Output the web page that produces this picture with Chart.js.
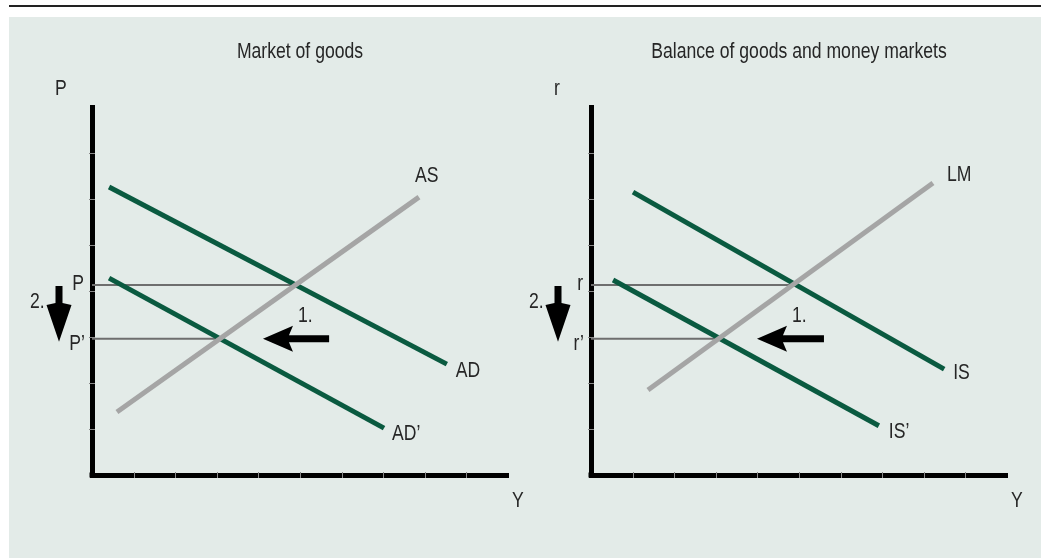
<!DOCTYPE html>
<html>
<head>
<meta charset="utf-8">
<script src="https://cdn.jsdelivr.net/npm/chart.js@4.4.1/dist/chart.umd.min.js"></script>
<style>
  html, body { margin: 0; padding: 0; background: #fff; }
  #wrap { position: relative; width: 1041px; height: 558px; overflow: hidden; }
  #rule { position: absolute; left: 9px; top: 5px; width: 1032px; height: 2px; background: #222; }
  #panel { position: absolute; left: 9px; top: 17px; width: 1032px; height: 541px; background: #e3ebe8; }
  canvas { position: absolute; top: 0; left: 0; }
  #leftBox { position: absolute; left: 0; top: 0; width: 540px; height: 558px; }
  #rightBox { position: absolute; left: 499px; top: 0; width: 542px; height: 558px; }
</style>
</head>
<body>
<div id="wrap">
  <div id="rule"></div>
  <div id="panel"></div>
  <div id="leftBox"><canvas id="goodsChart"></canvas></div>
  <div id="rightBox"><canvas id="islmChart"></canvas></div>
</div>
<script>
// Axis ranges (ticks every 1 unit)
const xMax = 10;
const yMax = 8;

// Left panel: market of goods
const goodsTitle = 'Market of goods';
const goodsAxisNames = ['P', 'Y'];
const goodsCurveNames = ['AD', 'AD\u2019', 'AS'];
const adX = [0.41, 8.53];
const adY = [6.26, 2.41];
const ad2X = [0.41, 7.02];
const ad2Y = [4.28, 1.02];
const asX = [0.60, 7.86];
const asY = [1.37, 6.04];
const priceNames = ['P', 'P\u2019'];
const priceLevels = [4.13, 2.96];
const priceLineEnds = [4.90, 3.08];
const goodsShiftX = [5.70, 4.11];

// Right panel: IS-LM
const islmTitle = 'Balance of goods and money markets';
const islmAxisNames = ['r', 'Y'];
const islmCurveNames = ['IS', 'IS\u2019', 'LM'];
const isX = [1.01, 8.49];
const isY = [6.15, 2.30];
const is2X = [0.53, 6.92];
const is2Y = [4.24, 1.07];
const lmX = [1.37, 8.22];
const lmY = [1.85, 6.35];
const rateNames = ['r', 'r\u2019'];
const rateLevels = [4.13, 2.96];
const rateLineEnds = [4.90, 3.10];
const islmShiftX = [5.60, 3.99];

const GREEN = '#0a5a40';
const GREY = '#a5a5a5';
const GUIDE = '#6e6e6e';
const TEXT = '#262626';
const FONT = '"Liberation Sans", Arial, sans-serif';
const NARROW = 0.8; // the original uses a condensed face

let charts = {};

function pts(xs, ys) {
    return xs.map((x, i) => ({ x: x, y: ys[i] }));
}

function lineSet(xs, ys, color, width, order) {
    return {
        data: pts(xs, ys),
        borderColor: color,
        borderWidth: width,
        borderCapStyle: 'butt',
        pointRadius: 0,
        fill: false,
        tension: 0,
        order: order
    };
}

// Helper: condensed text (align: left / center / right)
function narrowText(ctx, text, x, y, align) {
    const w = ctx.measureText(text).width * NARROW;
    let left = x;
    if (align === 'center') left = x - w / 2;
    if (align === 'right') left = x - w;
    ctx.save();
    ctx.textAlign = 'left';
    ctx.translate(left, y);
    ctx.scale(NARROW, 1);
    ctx.fillText(text, 0, 0);
    ctx.restore();
}

// Helper: axis ticks, labels and arrows drawn over the chart
const decorPlugin = {
    id: 'decor',
    afterDatasetsDraw(chart, args, opts) {
        const ctx = chart.ctx;
        const xs = chart.scales.x;
        const ys = chart.scales.y;
        const area = chart.chartArea;
        ctx.save();

        // small tick marks across the thick axes
        ctx.strokeStyle = '#8a8a8a';
        ctx.lineWidth = 1;
        for (let v = 1; v < yMax; v++) {
            const py = Math.round(ys.getPixelForValue(v)) + 0.5;
            ctx.beginPath();
            ctx.moveTo(area.left - 3, py);
            ctx.lineTo(area.left + 3, py);
            ctx.stroke();
        }
        for (let v = 1; v < xMax; v++) {
            const px = Math.round(xs.getPixelForValue(v)) + 0.5;
            ctx.beginPath();
            ctx.moveTo(px, area.bottom - 3);
            ctx.lineTo(px, area.bottom + 3);
            ctx.stroke();
        }
        // close the corner
        ctx.fillStyle = '#000';
        ctx.fillRect(area.left - 2.5, area.bottom - 2.5, 5, 5);

        ctx.fillStyle = TEXT;
        ctx.font = '22px ' + FONT;
        ctx.textBaseline = 'alphabetic';

        // title
        narrowText(ctx, opts.title, (area.left + area.right) / 2, 58, 'center');

        // axis names
        narrowText(ctx, opts.axisNames[0], area.left - 37, area.top - 12, 'left');
        narrowText(ctx, opts.axisNames[1], area.right + 4, area.bottom + 32, 'left');

        // curve names next to line ends
        const offs = opts.curveOffsets;
        opts.curveNames.forEach((name, i) => {
            const ds = chart.data.datasets[i].data;
            const end = ds[ds.length - 1];
            narrowText(ctx, name, xs.getPixelForValue(end.x) + offs[i][0], ys.getPixelForValue(end.y) + offs[i][1], 'left');
        });

        // level names
        const hi = ys.getPixelForValue(opts.levels[0]);
        const lo = ys.getPixelForValue(opts.levels[1]);
        narrowText(ctx, opts.levelNames[0], area.left - 8, hi + 5, 'right');
        narrowText(ctx, opts.levelNames[1], area.left - 7, lo + 11, 'right');

        // "2." and the downward arrow
        narrowText(ctx, '2.', area.left - 62, hi + 23, 'left');
        const cx = area.left - 33;
        ctx.beginPath();
        ctx.moveTo(cx - 3.5, hi + 1);
        ctx.lineTo(cx + 3.5, hi + 1);
        ctx.lineTo(cx + 3.5, hi + 18);
        ctx.lineTo(cx + 12.5, hi + 20);
        ctx.lineTo(cx, lo + 3);
        ctx.lineTo(cx - 12.5, hi + 20);
        ctx.lineTo(cx - 3.5, hi + 18);
        ctx.closePath();
        ctx.fillStyle = '#000';
        ctx.fill();

        // "1." and the leftward arrow
        const tail = xs.getPixelForValue(opts.shiftX[0]);
        const tip = xs.getPixelForValue(opts.shiftX[1]);
        ctx.beginPath();
        ctx.moveTo(tip, lo);
        ctx.lineTo(tip + 30, lo - 13);
        ctx.lineTo(tip + 26, lo - 3.5);
        ctx.lineTo(tail, lo - 3.5);
        ctx.lineTo(tail, lo + 3.5);
        ctx.lineTo(tip + 26, lo + 3.5);
        ctx.lineTo(tip + 30, lo + 13);
        ctx.closePath();
        ctx.fill();
        ctx.fillStyle = TEXT;
        narrowText(ctx, '1.', tip + 35, lo - 17, 'left');

        ctx.restore();
    }
};

function renderPanel(id, p) {
    const ctx = document.getElementById(id);
    const box = ctx.parentNode;
    const levelSets = p.levels.map((lv, i) => lineSet([0, p.levelEnds[i]], [lv, lv], GUIDE, 2, 3));

    charts[id] = new Chart(ctx, {
        type: 'line',
        data: {
            datasets: [
                lineSet(p.curves[0][0], p.curves[0][1], GREEN, 5, 1),
                lineSet(p.curves[1][0], p.curves[1][1], GREEN, 5, 1),
                lineSet(p.curves[2][0], p.curves[2][1], GREY, 5, 0),
                ...levelSets
            ]
        },
        options: {
            responsive: false,
            animation: false,
            events: [],
            layout: {
                padding: { left: 92, top: 107, right: box.clientWidth - 508, bottom: 558 - 475 }
            },
            plugins: {
                legend: { display: false },
                tooltip: { enabled: false },
                decor: p.decor
            },
            scales: {
                x: {
                    type: 'linear', min: 0, max: xMax,
                    ticks: { display: false, stepSize: 1 },
                    grid: { display: false },
                    border: { display: true, color: '#000', width: 5 },
                    afterFit: s => { s.height = 0; }
                },
                y: {
                    type: 'linear', min: 0, max: yMax,
                    ticks: { display: false, stepSize: 1 },
                    grid: { display: false },
                    border: { display: true, color: '#000', width: 5 },
                    afterFit: s => { s.width = 0; }
                }
            }
        },
        plugins: [decorPlugin]
    });
}

function setSize(id) {
    const c = document.getElementById(id);
    c.width = c.parentNode.clientWidth;
    c.height = c.parentNode.clientHeight;
    c.style.width = c.width + 'px';
    c.style.height = c.height + 'px';
}

setSize('goodsChart');
setSize('islmChart');

renderPanel('goodsChart', {
    curves: [[adX, adY], [ad2X, ad2Y], [asX, asY]],
    levels: priceLevels,
    levelEnds: priceLineEnds,
    decor: {
        title: goodsTitle,
        axisNames: goodsAxisNames,
        curveNames: goodsCurveNames,
        curveOffsets: [[9, 13], [8, 12], [-4, -15]],
        levels: priceLevels,
        levelNames: priceNames,
        shiftX: goodsShiftX
    }
});

renderPanel('islmChart', {
    curves: [[isX, isY], [is2X, is2Y], [lmX, lmY]],
    levels: rateLevels,
    levelEnds: rateLineEnds,
    decor: {
        title: islmTitle,
        axisNames: islmAxisNames,
        curveNames: islmCurveNames,
        curveOffsets: [[9, 10], [10, 12], [14, -2]],
        levels: rateLevels,
        levelNames: rateNames,
        shiftX: islmShiftX
    }
});
</script>
</body>
</html>
